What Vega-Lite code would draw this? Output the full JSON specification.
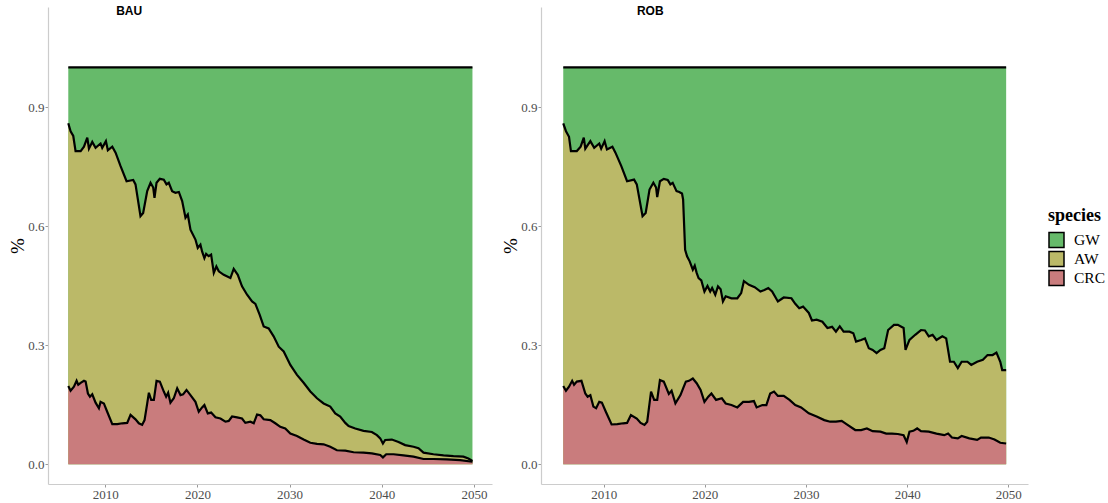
{
  "$schema": "https://vega.github.io/schema/vega-lite/v6.json",
  "padding": {"left": 8, "top": 4, "right": 2, "bottom": 0},
  "background": "white",
  "spacing": 9,
  "config": {
    "view": {"stroke": null},
    "axis": {
      "grid": false,
      "domainColor": "#cccccc",
      "domainWidth": 1.2,
      "tickColor": "#999999",
      "tickSize": 3,
      "labelFont": "Liberation Serif",
      "labelFontSize": 13,
      "labelColor": "#4d4d4d",
      "labelPadding": 1,
      "titleFont": "Liberation Serif",
      "titleFontSize": 19,
      "titleFontWeight": "normal",
      "titleColor": "black"
    },
    "legend": {
      "titleFont": "Liberation Serif",
      "titleFontSize": 18,
      "titleFontWeight": "bold",
      "titleColor": "black",
      "labelFont": "Liberation Serif",
      "labelFontSize": 15.5,
      "labelColor": "black",
      "labelOffset": 9,
      "symbolType": "square",
      "symbolSize": 225,
      "symbolStrokeColor": "black",
      "symbolStrokeWidth": 1.5,
      "symbolOpacity": 1,
      "rowPadding": -4,
      "titlePadding": 6.5
    }
  },
  "datasets": {
    "labels": [
      {"scenario": "BAU", "year": 2012.6, "value": 1.142},
      {"scenario": "ROB", "year": 2014.6, "value": 1.142}
    ],
    "shares": [
      {"scenario": "BAU", "edge": "GW", "year": 2006.00, "value": 1.0},
      {"scenario": "BAU", "edge": "GW", "year": 2049.83, "value": 1.0},
      {"scenario": "BAU", "edge": "AW", "year": 2006.00, "value": 0.859},
      {"scenario": "BAU", "edge": "AW", "year": 2006.25, "value": 0.839},
      {"scenario": "BAU", "edge": "AW", "year": 2006.54, "value": 0.827},
      {"scenario": "BAU", "edge": "AW", "year": 2006.79, "value": 0.789},
      {"scenario": "BAU", "edge": "AW", "year": 2007.34, "value": 0.789},
      {"scenario": "BAU", "edge": "AW", "year": 2007.70, "value": 0.800},
      {"scenario": "BAU", "edge": "AW", "year": 2008.06, "value": 0.823},
      {"scenario": "BAU", "edge": "AW", "year": 2008.24, "value": 0.795},
      {"scenario": "BAU", "edge": "AW", "year": 2008.60, "value": 0.812},
      {"scenario": "BAU", "edge": "AW", "year": 2008.96, "value": 0.797},
      {"scenario": "BAU", "edge": "AW", "year": 2009.50, "value": 0.808},
      {"scenario": "BAU", "edge": "AW", "year": 2009.68, "value": 0.797},
      {"scenario": "BAU", "edge": "AW", "year": 2010.08, "value": 0.814},
      {"scenario": "BAU", "edge": "AW", "year": 2010.29, "value": 0.791},
      {"scenario": "BAU", "edge": "AW", "year": 2010.77, "value": 0.800},
      {"scenario": "BAU", "edge": "AW", "year": 2011.13, "value": 0.785},
      {"scenario": "BAU", "edge": "AW", "year": 2011.67, "value": 0.751},
      {"scenario": "BAU", "edge": "AW", "year": 2012.32, "value": 0.713},
      {"scenario": "BAU", "edge": "AW", "year": 2013.04, "value": 0.716},
      {"scenario": "BAU", "edge": "AW", "year": 2013.29, "value": 0.705},
      {"scenario": "BAU", "edge": "AW", "year": 2013.83, "value": 0.625},
      {"scenario": "BAU", "edge": "AW", "year": 2014.12, "value": 0.633},
      {"scenario": "BAU", "edge": "AW", "year": 2014.56, "value": 0.688},
      {"scenario": "BAU", "edge": "AW", "year": 2014.92, "value": 0.709},
      {"scenario": "BAU", "edge": "AW", "year": 2015.21, "value": 0.697},
      {"scenario": "BAU", "edge": "AW", "year": 2015.35, "value": 0.671},
      {"scenario": "BAU", "edge": "AW", "year": 2015.57, "value": 0.709},
      {"scenario": "BAU", "edge": "AW", "year": 2015.93, "value": 0.719},
      {"scenario": "BAU", "edge": "AW", "year": 2016.36, "value": 0.717},
      {"scenario": "BAU", "edge": "AW", "year": 2016.65, "value": 0.705},
      {"scenario": "BAU", "edge": "AW", "year": 2016.90, "value": 0.709},
      {"scenario": "BAU", "edge": "AW", "year": 2017.26, "value": 0.688},
      {"scenario": "BAU", "edge": "AW", "year": 2017.62, "value": 0.684},
      {"scenario": "BAU", "edge": "AW", "year": 2017.99, "value": 0.686},
      {"scenario": "BAU", "edge": "AW", "year": 2018.35, "value": 0.663},
      {"scenario": "BAU", "edge": "AW", "year": 2018.71, "value": 0.621},
      {"scenario": "BAU", "edge": "AW", "year": 2018.96, "value": 0.629},
      {"scenario": "BAU", "edge": "AW", "year": 2019.25, "value": 0.591},
      {"scenario": "BAU", "edge": "AW", "year": 2019.79, "value": 0.566},
      {"scenario": "BAU", "edge": "AW", "year": 2020.04, "value": 0.545},
      {"scenario": "BAU", "edge": "AW", "year": 2020.33, "value": 0.553},
      {"scenario": "BAU", "edge": "AW", "year": 2020.51, "value": 0.536},
      {"scenario": "BAU", "edge": "AW", "year": 2020.76, "value": 0.519},
      {"scenario": "BAU", "edge": "AW", "year": 2020.95, "value": 0.530},
      {"scenario": "BAU", "edge": "AW", "year": 2021.23, "value": 0.524},
      {"scenario": "BAU", "edge": "AW", "year": 2021.49, "value": 0.528},
      {"scenario": "BAU", "edge": "AW", "year": 2021.78, "value": 0.482},
      {"scenario": "BAU", "edge": "AW", "year": 2022.06, "value": 0.498},
      {"scenario": "BAU", "edge": "AW", "year": 2022.32, "value": 0.486},
      {"scenario": "BAU", "edge": "AW", "year": 2022.86, "value": 0.477},
      {"scenario": "BAU", "edge": "AW", "year": 2023.58, "value": 0.469},
      {"scenario": "BAU", "edge": "AW", "year": 2023.94, "value": 0.492},
      {"scenario": "BAU", "edge": "AW", "year": 2024.38, "value": 0.477},
      {"scenario": "BAU", "edge": "AW", "year": 2024.84, "value": 0.448},
      {"scenario": "BAU", "edge": "AW", "year": 2025.39, "value": 0.427},
      {"scenario": "BAU", "edge": "AW", "year": 2025.93, "value": 0.410},
      {"scenario": "BAU", "edge": "AW", "year": 2026.29, "value": 0.404},
      {"scenario": "BAU", "edge": "AW", "year": 2026.76, "value": 0.376},
      {"scenario": "BAU", "edge": "AW", "year": 2027.19, "value": 0.347},
      {"scenario": "BAU", "edge": "AW", "year": 2027.73, "value": 0.342},
      {"scenario": "BAU", "edge": "AW", "year": 2028.27, "value": 0.322},
      {"scenario": "BAU", "edge": "AW", "year": 2028.82, "value": 0.296},
      {"scenario": "BAU", "edge": "AW", "year": 2029.36, "value": 0.284},
      {"scenario": "BAU", "edge": "AW", "year": 2030.08, "value": 0.250},
      {"scenario": "BAU", "edge": "AW", "year": 2030.80, "value": 0.225},
      {"scenario": "BAU", "edge": "AW", "year": 2031.52, "value": 0.205},
      {"scenario": "BAU", "edge": "AW", "year": 2032.25, "value": 0.183},
      {"scenario": "BAU", "edge": "AW", "year": 2032.97, "value": 0.166},
      {"scenario": "BAU", "edge": "AW", "year": 2033.69, "value": 0.153},
      {"scenario": "BAU", "edge": "AW", "year": 2034.41, "value": 0.145},
      {"scenario": "BAU", "edge": "AW", "year": 2034.95, "value": 0.128},
      {"scenario": "BAU", "edge": "AW", "year": 2035.49, "value": 0.120},
      {"scenario": "BAU", "edge": "AW", "year": 2036.04, "value": 0.104},
      {"scenario": "BAU", "edge": "AW", "year": 2036.40, "value": 0.096},
      {"scenario": "BAU", "edge": "AW", "year": 2037.12, "value": 0.090},
      {"scenario": "BAU", "edge": "AW", "year": 2038.02, "value": 0.084},
      {"scenario": "BAU", "edge": "AW", "year": 2038.92, "value": 0.081},
      {"scenario": "BAU", "edge": "AW", "year": 2039.47, "value": 0.073},
      {"scenario": "BAU", "edge": "AW", "year": 2039.83, "value": 0.065},
      {"scenario": "BAU", "edge": "AW", "year": 2040.12, "value": 0.052},
      {"scenario": "BAU", "edge": "AW", "year": 2040.37, "value": 0.061},
      {"scenario": "BAU", "edge": "AW", "year": 2041.09, "value": 0.062},
      {"scenario": "BAU", "edge": "AW", "year": 2041.81, "value": 0.056},
      {"scenario": "BAU", "edge": "AW", "year": 2042.53, "value": 0.048},
      {"scenario": "BAU", "edge": "AW", "year": 2043.44, "value": 0.044},
      {"scenario": "BAU", "edge": "AW", "year": 2043.98, "value": 0.040},
      {"scenario": "BAU", "edge": "AW", "year": 2044.52, "value": 0.029},
      {"scenario": "BAU", "edge": "AW", "year": 2045.60, "value": 0.025},
      {"scenario": "BAU", "edge": "AW", "year": 2046.69, "value": 0.022},
      {"scenario": "BAU", "edge": "AW", "year": 2047.77, "value": 0.020},
      {"scenario": "BAU", "edge": "AW", "year": 2048.85, "value": 0.019},
      {"scenario": "BAU", "edge": "AW", "year": 2049.39, "value": 0.014},
      {"scenario": "BAU", "edge": "AW", "year": 2049.83, "value": 0.008},
      {"scenario": "BAU", "edge": "CRC", "year": 2006.00, "value": 0.197},
      {"scenario": "BAU", "edge": "CRC", "year": 2006.25, "value": 0.185},
      {"scenario": "BAU", "edge": "CRC", "year": 2006.61, "value": 0.195},
      {"scenario": "BAU", "edge": "CRC", "year": 2006.90, "value": 0.210},
      {"scenario": "BAU", "edge": "CRC", "year": 2007.08, "value": 0.200},
      {"scenario": "BAU", "edge": "CRC", "year": 2007.34, "value": 0.205},
      {"scenario": "BAU", "edge": "CRC", "year": 2007.70, "value": 0.210},
      {"scenario": "BAU", "edge": "CRC", "year": 2007.88, "value": 0.208},
      {"scenario": "BAU", "edge": "CRC", "year": 2008.13, "value": 0.178},
      {"scenario": "BAU", "edge": "CRC", "year": 2008.35, "value": 0.170},
      {"scenario": "BAU", "edge": "CRC", "year": 2008.60, "value": 0.176},
      {"scenario": "BAU", "edge": "CRC", "year": 2008.96, "value": 0.155},
      {"scenario": "BAU", "edge": "CRC", "year": 2009.32, "value": 0.141},
      {"scenario": "BAU", "edge": "CRC", "year": 2009.50, "value": 0.157},
      {"scenario": "BAU", "edge": "CRC", "year": 2009.86, "value": 0.153},
      {"scenario": "BAU", "edge": "CRC", "year": 2010.22, "value": 0.132},
      {"scenario": "BAU", "edge": "CRC", "year": 2010.77, "value": 0.101},
      {"scenario": "BAU", "edge": "CRC", "year": 2011.31, "value": 0.101},
      {"scenario": "BAU", "edge": "CRC", "year": 2011.86, "value": 0.103},
      {"scenario": "BAU", "edge": "CRC", "year": 2012.39, "value": 0.104},
      {"scenario": "BAU", "edge": "CRC", "year": 2012.75, "value": 0.124},
      {"scenario": "BAU", "edge": "CRC", "year": 2013.29, "value": 0.113},
      {"scenario": "BAU", "edge": "CRC", "year": 2013.65, "value": 0.103},
      {"scenario": "BAU", "edge": "CRC", "year": 2014.01, "value": 0.099},
      {"scenario": "BAU", "edge": "CRC", "year": 2014.27, "value": 0.111},
      {"scenario": "BAU", "edge": "CRC", "year": 2014.56, "value": 0.153},
      {"scenario": "BAU", "edge": "CRC", "year": 2014.74, "value": 0.180},
      {"scenario": "BAU", "edge": "CRC", "year": 2014.99, "value": 0.162},
      {"scenario": "BAU", "edge": "CRC", "year": 2015.28, "value": 0.162},
      {"scenario": "BAU", "edge": "CRC", "year": 2015.57, "value": 0.210},
      {"scenario": "BAU", "edge": "CRC", "year": 2015.93, "value": 0.208},
      {"scenario": "BAU", "edge": "CRC", "year": 2016.36, "value": 0.183},
      {"scenario": "BAU", "edge": "CRC", "year": 2016.61, "value": 0.170},
      {"scenario": "BAU", "edge": "CRC", "year": 2016.83, "value": 0.180},
      {"scenario": "BAU", "edge": "CRC", "year": 2017.08, "value": 0.155},
      {"scenario": "BAU", "edge": "CRC", "year": 2017.44, "value": 0.166},
      {"scenario": "BAU", "edge": "CRC", "year": 2017.81, "value": 0.191},
      {"scenario": "BAU", "edge": "CRC", "year": 2018.17, "value": 0.174},
      {"scenario": "BAU", "edge": "CRC", "year": 2018.45, "value": 0.176},
      {"scenario": "BAU", "edge": "CRC", "year": 2018.82, "value": 0.187},
      {"scenario": "BAU", "edge": "CRC", "year": 2019.25, "value": 0.174},
      {"scenario": "BAU", "edge": "CRC", "year": 2019.79, "value": 0.157},
      {"scenario": "BAU", "edge": "CRC", "year": 2020.15, "value": 0.132},
      {"scenario": "BAU", "edge": "CRC", "year": 2020.51, "value": 0.143},
      {"scenario": "BAU", "edge": "CRC", "year": 2020.76, "value": 0.149},
      {"scenario": "BAU", "edge": "CRC", "year": 2021.13, "value": 0.128},
      {"scenario": "BAU", "edge": "CRC", "year": 2021.49, "value": 0.130},
      {"scenario": "BAU", "edge": "CRC", "year": 2021.96, "value": 0.118},
      {"scenario": "BAU", "edge": "CRC", "year": 2022.50, "value": 0.115},
      {"scenario": "BAU", "edge": "CRC", "year": 2023.04, "value": 0.107},
      {"scenario": "BAU", "edge": "CRC", "year": 2023.40, "value": 0.109},
      {"scenario": "BAU", "edge": "CRC", "year": 2023.76, "value": 0.120},
      {"scenario": "BAU", "edge": "CRC", "year": 2024.30, "value": 0.118},
      {"scenario": "BAU", "edge": "CRC", "year": 2024.84, "value": 0.115},
      {"scenario": "BAU", "edge": "CRC", "year": 2025.20, "value": 0.104},
      {"scenario": "BAU", "edge": "CRC", "year": 2025.75, "value": 0.107},
      {"scenario": "BAU", "edge": "CRC", "year": 2026.11, "value": 0.103},
      {"scenario": "BAU", "edge": "CRC", "year": 2026.47, "value": 0.125},
      {"scenario": "BAU", "edge": "CRC", "year": 2026.83, "value": 0.123},
      {"scenario": "BAU", "edge": "CRC", "year": 2027.19, "value": 0.113},
      {"scenario": "BAU", "edge": "CRC", "year": 2027.91, "value": 0.111},
      {"scenario": "BAU", "edge": "CRC", "year": 2028.45, "value": 0.103},
      {"scenario": "BAU", "edge": "CRC", "year": 2028.99, "value": 0.094},
      {"scenario": "BAU", "edge": "CRC", "year": 2029.53, "value": 0.090},
      {"scenario": "BAU", "edge": "CRC", "year": 2030.08, "value": 0.077},
      {"scenario": "BAU", "edge": "CRC", "year": 2030.80, "value": 0.071},
      {"scenario": "BAU", "edge": "CRC", "year": 2031.52, "value": 0.062},
      {"scenario": "BAU", "edge": "CRC", "year": 2032.25, "value": 0.054},
      {"scenario": "BAU", "edge": "CRC", "year": 2032.97, "value": 0.051},
      {"scenario": "BAU", "edge": "CRC", "year": 2033.69, "value": 0.050},
      {"scenario": "BAU", "edge": "CRC", "year": 2034.41, "value": 0.044},
      {"scenario": "BAU", "edge": "CRC", "year": 2035.13, "value": 0.035},
      {"scenario": "BAU", "edge": "CRC", "year": 2036.04, "value": 0.034},
      {"scenario": "BAU", "edge": "CRC", "year": 2036.94, "value": 0.030},
      {"scenario": "BAU", "edge": "CRC", "year": 2038.02, "value": 0.029},
      {"scenario": "BAU", "edge": "CRC", "year": 2038.92, "value": 0.027},
      {"scenario": "BAU", "edge": "CRC", "year": 2039.83, "value": 0.023},
      {"scenario": "BAU", "edge": "CRC", "year": 2040.12, "value": 0.017},
      {"scenario": "BAU", "edge": "CRC", "year": 2040.48, "value": 0.025},
      {"scenario": "BAU", "edge": "CRC", "year": 2041.27, "value": 0.025},
      {"scenario": "BAU", "edge": "CRC", "year": 2042.35, "value": 0.022},
      {"scenario": "BAU", "edge": "CRC", "year": 2043.44, "value": 0.019},
      {"scenario": "BAU", "edge": "CRC", "year": 2044.52, "value": 0.013},
      {"scenario": "BAU", "edge": "CRC", "year": 2045.60, "value": 0.013},
      {"scenario": "BAU", "edge": "CRC", "year": 2047.04, "value": 0.012},
      {"scenario": "BAU", "edge": "CRC", "year": 2048.49, "value": 0.010},
      {"scenario": "BAU", "edge": "CRC", "year": 2049.83, "value": 0.006},
      {"scenario": "ROB", "edge": "GW", "year": 2006.00, "value": 1.0},
      {"scenario": "ROB", "edge": "GW", "year": 2049.79, "value": 1.0},
      {"scenario": "ROB", "edge": "AW", "year": 2006.00, "value": 0.859},
      {"scenario": "ROB", "edge": "AW", "year": 2006.27, "value": 0.839},
      {"scenario": "ROB", "edge": "AW", "year": 2006.57, "value": 0.825},
      {"scenario": "ROB", "edge": "AW", "year": 2006.76, "value": 0.789},
      {"scenario": "ROB", "edge": "AW", "year": 2007.34, "value": 0.789},
      {"scenario": "ROB", "edge": "AW", "year": 2007.72, "value": 0.800},
      {"scenario": "ROB", "edge": "AW", "year": 2008.03, "value": 0.823},
      {"scenario": "ROB", "edge": "AW", "year": 2008.18, "value": 0.795},
      {"scenario": "ROB", "edge": "AW", "year": 2008.68, "value": 0.814},
      {"scenario": "ROB", "edge": "AW", "year": 2009.06, "value": 0.797},
      {"scenario": "ROB", "edge": "AW", "year": 2009.56, "value": 0.808},
      {"scenario": "ROB", "edge": "AW", "year": 2009.75, "value": 0.795},
      {"scenario": "ROB", "edge": "AW", "year": 2010.09, "value": 0.814},
      {"scenario": "ROB", "edge": "AW", "year": 2010.32, "value": 0.793},
      {"scenario": "ROB", "edge": "AW", "year": 2010.86, "value": 0.800},
      {"scenario": "ROB", "edge": "AW", "year": 2011.16, "value": 0.785},
      {"scenario": "ROB", "edge": "AW", "year": 2011.74, "value": 0.751},
      {"scenario": "ROB", "edge": "AW", "year": 2012.31, "value": 0.713},
      {"scenario": "ROB", "edge": "AW", "year": 2013.00, "value": 0.717},
      {"scenario": "ROB", "edge": "AW", "year": 2013.27, "value": 0.705},
      {"scenario": "ROB", "edge": "AW", "year": 2013.84, "value": 0.625},
      {"scenario": "ROB", "edge": "AW", "year": 2014.15, "value": 0.633},
      {"scenario": "ROB", "edge": "AW", "year": 2014.53, "value": 0.692},
      {"scenario": "ROB", "edge": "AW", "year": 2014.91, "value": 0.709},
      {"scenario": "ROB", "edge": "AW", "year": 2015.18, "value": 0.697},
      {"scenario": "ROB", "edge": "AW", "year": 2015.29, "value": 0.673},
      {"scenario": "ROB", "edge": "AW", "year": 2015.56, "value": 0.713},
      {"scenario": "ROB", "edge": "AW", "year": 2015.94, "value": 0.719},
      {"scenario": "ROB", "edge": "AW", "year": 2016.33, "value": 0.716},
      {"scenario": "ROB", "edge": "AW", "year": 2016.59, "value": 0.705},
      {"scenario": "ROB", "edge": "AW", "year": 2016.82, "value": 0.709},
      {"scenario": "ROB", "edge": "AW", "year": 2017.20, "value": 0.688},
      {"scenario": "ROB", "edge": "AW", "year": 2017.47, "value": 0.686},
      {"scenario": "ROB", "edge": "AW", "year": 2017.74, "value": 0.682},
      {"scenario": "ROB", "edge": "AW", "year": 2017.85, "value": 0.667},
      {"scenario": "ROB", "edge": "AW", "year": 2018.05, "value": 0.540},
      {"scenario": "ROB", "edge": "AW", "year": 2018.24, "value": 0.524},
      {"scenario": "ROB", "edge": "AW", "year": 2018.50, "value": 0.511},
      {"scenario": "ROB", "edge": "AW", "year": 2018.81, "value": 0.490},
      {"scenario": "ROB", "edge": "AW", "year": 2019.00, "value": 0.500},
      {"scenario": "ROB", "edge": "AW", "year": 2019.19, "value": 0.482},
      {"scenario": "ROB", "edge": "AW", "year": 2019.38, "value": 0.469},
      {"scenario": "ROB", "edge": "AW", "year": 2019.65, "value": 0.463},
      {"scenario": "ROB", "edge": "AW", "year": 2019.96, "value": 0.435},
      {"scenario": "ROB", "edge": "AW", "year": 2020.26, "value": 0.449},
      {"scenario": "ROB", "edge": "AW", "year": 2020.53, "value": 0.435},
      {"scenario": "ROB", "edge": "AW", "year": 2020.72, "value": 0.444},
      {"scenario": "ROB", "edge": "AW", "year": 2021.03, "value": 0.427},
      {"scenario": "ROB", "edge": "AW", "year": 2021.30, "value": 0.448},
      {"scenario": "ROB", "edge": "AW", "year": 2021.56, "value": 0.441},
      {"scenario": "ROB", "edge": "AW", "year": 2021.79, "value": 0.410},
      {"scenario": "ROB", "edge": "AW", "year": 2022.06, "value": 0.423},
      {"scenario": "ROB", "edge": "AW", "year": 2022.63, "value": 0.418},
      {"scenario": "ROB", "edge": "AW", "year": 2023.21, "value": 0.418},
      {"scenario": "ROB", "edge": "AW", "year": 2023.59, "value": 0.431},
      {"scenario": "ROB", "edge": "AW", "year": 2023.86, "value": 0.461},
      {"scenario": "ROB", "edge": "AW", "year": 2024.36, "value": 0.452},
      {"scenario": "ROB", "edge": "AW", "year": 2024.93, "value": 0.446},
      {"scenario": "ROB", "edge": "AW", "year": 2025.50, "value": 0.435},
      {"scenario": "ROB", "edge": "AW", "year": 2025.89, "value": 0.439},
      {"scenario": "ROB", "edge": "AW", "year": 2026.27, "value": 0.444},
      {"scenario": "ROB", "edge": "AW", "year": 2026.65, "value": 0.435},
      {"scenario": "ROB", "edge": "AW", "year": 2027.22, "value": 0.410},
      {"scenario": "ROB", "edge": "AW", "year": 2027.80, "value": 0.420},
      {"scenario": "ROB", "edge": "AW", "year": 2028.56, "value": 0.418},
      {"scenario": "ROB", "edge": "AW", "year": 2028.94, "value": 0.404},
      {"scenario": "ROB", "edge": "AW", "year": 2029.33, "value": 0.393},
      {"scenario": "ROB", "edge": "AW", "year": 2029.71, "value": 0.397},
      {"scenario": "ROB", "edge": "AW", "year": 2030.28, "value": 0.381},
      {"scenario": "ROB", "edge": "AW", "year": 2030.59, "value": 0.362},
      {"scenario": "ROB", "edge": "AW", "year": 2031.05, "value": 0.364},
      {"scenario": "ROB", "edge": "AW", "year": 2031.62, "value": 0.359},
      {"scenario": "ROB", "edge": "AW", "year": 2032.12, "value": 0.343},
      {"scenario": "ROB", "edge": "AW", "year": 2032.58, "value": 0.346},
      {"scenario": "ROB", "edge": "AW", "year": 2032.96, "value": 0.334},
      {"scenario": "ROB", "edge": "AW", "year": 2033.34, "value": 0.347},
      {"scenario": "ROB", "edge": "AW", "year": 2033.72, "value": 0.334},
      {"scenario": "ROB", "edge": "AW", "year": 2034.30, "value": 0.334},
      {"scenario": "ROB", "edge": "AW", "year": 2034.68, "value": 0.330},
      {"scenario": "ROB", "edge": "AW", "year": 2034.95, "value": 0.309},
      {"scenario": "ROB", "edge": "AW", "year": 2035.45, "value": 0.313},
      {"scenario": "ROB", "edge": "AW", "year": 2035.83, "value": 0.317},
      {"scenario": "ROB", "edge": "AW", "year": 2036.21, "value": 0.292},
      {"scenario": "ROB", "edge": "AW", "year": 2036.59, "value": 0.288},
      {"scenario": "ROB", "edge": "AW", "year": 2036.98, "value": 0.280},
      {"scenario": "ROB", "edge": "AW", "year": 2037.36, "value": 0.288},
      {"scenario": "ROB", "edge": "AW", "year": 2037.74, "value": 0.292},
      {"scenario": "ROB", "edge": "AW", "year": 2038.12, "value": 0.338},
      {"scenario": "ROB", "edge": "AW", "year": 2038.70, "value": 0.351},
      {"scenario": "ROB", "edge": "AW", "year": 2039.08, "value": 0.351},
      {"scenario": "ROB", "edge": "AW", "year": 2039.65, "value": 0.343},
      {"scenario": "ROB", "edge": "AW", "year": 2039.84, "value": 0.288},
      {"scenario": "ROB", "edge": "AW", "year": 2040.23, "value": 0.313},
      {"scenario": "ROB", "edge": "AW", "year": 2040.80, "value": 0.326},
      {"scenario": "ROB", "edge": "AW", "year": 2041.37, "value": 0.338},
      {"scenario": "ROB", "edge": "AW", "year": 2041.76, "value": 0.337},
      {"scenario": "ROB", "edge": "AW", "year": 2042.14, "value": 0.322},
      {"scenario": "ROB", "edge": "AW", "year": 2042.52, "value": 0.326},
      {"scenario": "ROB", "edge": "AW", "year": 2042.90, "value": 0.313},
      {"scenario": "ROB", "edge": "AW", "year": 2043.48, "value": 0.322},
      {"scenario": "ROB", "edge": "AW", "year": 2043.86, "value": 0.317},
      {"scenario": "ROB", "edge": "AW", "year": 2044.24, "value": 0.258},
      {"scenario": "ROB", "edge": "AW", "year": 2044.62, "value": 0.258},
      {"scenario": "ROB", "edge": "AW", "year": 2045.01, "value": 0.242},
      {"scenario": "ROB", "edge": "AW", "year": 2045.39, "value": 0.258},
      {"scenario": "ROB", "edge": "AW", "year": 2045.96, "value": 0.258},
      {"scenario": "ROB", "edge": "AW", "year": 2046.34, "value": 0.250},
      {"scenario": "ROB", "edge": "AW", "year": 2046.92, "value": 0.258},
      {"scenario": "ROB", "edge": "AW", "year": 2047.49, "value": 0.263},
      {"scenario": "ROB", "edge": "AW", "year": 2047.95, "value": 0.275},
      {"scenario": "ROB", "edge": "AW", "year": 2048.45, "value": 0.275},
      {"scenario": "ROB", "edge": "AW", "year": 2048.83, "value": 0.281},
      {"scenario": "ROB", "edge": "AW", "year": 2049.21, "value": 0.258},
      {"scenario": "ROB", "edge": "AW", "year": 2049.40, "value": 0.237},
      {"scenario": "ROB", "edge": "AW", "year": 2049.79, "value": 0.237},
      {"scenario": "ROB", "edge": "CRC", "year": 2006.00, "value": 0.197},
      {"scenario": "ROB", "edge": "CRC", "year": 2006.27, "value": 0.185},
      {"scenario": "ROB", "edge": "CRC", "year": 2006.57, "value": 0.195},
      {"scenario": "ROB", "edge": "CRC", "year": 2006.88, "value": 0.210},
      {"scenario": "ROB", "edge": "CRC", "year": 2007.07, "value": 0.200},
      {"scenario": "ROB", "edge": "CRC", "year": 2007.34, "value": 0.208},
      {"scenario": "ROB", "edge": "CRC", "year": 2007.80, "value": 0.210},
      {"scenario": "ROB", "edge": "CRC", "year": 2008.18, "value": 0.178},
      {"scenario": "ROB", "edge": "CRC", "year": 2008.41, "value": 0.170},
      {"scenario": "ROB", "edge": "CRC", "year": 2008.68, "value": 0.174},
      {"scenario": "ROB", "edge": "CRC", "year": 2008.98, "value": 0.145},
      {"scenario": "ROB", "edge": "CRC", "year": 2009.25, "value": 0.141},
      {"scenario": "ROB", "edge": "CRC", "year": 2009.56, "value": 0.157},
      {"scenario": "ROB", "edge": "CRC", "year": 2009.82, "value": 0.155},
      {"scenario": "ROB", "edge": "CRC", "year": 2010.21, "value": 0.132},
      {"scenario": "ROB", "edge": "CRC", "year": 2010.78, "value": 0.100},
      {"scenario": "ROB", "edge": "CRC", "year": 2011.35, "value": 0.101},
      {"scenario": "ROB", "edge": "CRC", "year": 2011.93, "value": 0.103},
      {"scenario": "ROB", "edge": "CRC", "year": 2012.31, "value": 0.104},
      {"scenario": "ROB", "edge": "CRC", "year": 2012.69, "value": 0.124},
      {"scenario": "ROB", "edge": "CRC", "year": 2013.27, "value": 0.115},
      {"scenario": "ROB", "edge": "CRC", "year": 2013.65, "value": 0.104},
      {"scenario": "ROB", "edge": "CRC", "year": 2014.03, "value": 0.099},
      {"scenario": "ROB", "edge": "CRC", "year": 2014.30, "value": 0.107},
      {"scenario": "ROB", "edge": "CRC", "year": 2014.68, "value": 0.183},
      {"scenario": "ROB", "edge": "CRC", "year": 2014.99, "value": 0.162},
      {"scenario": "ROB", "edge": "CRC", "year": 2015.29, "value": 0.162},
      {"scenario": "ROB", "edge": "CRC", "year": 2015.56, "value": 0.212},
      {"scenario": "ROB", "edge": "CRC", "year": 2015.94, "value": 0.208},
      {"scenario": "ROB", "edge": "CRC", "year": 2016.44, "value": 0.177},
      {"scenario": "ROB", "edge": "CRC", "year": 2016.71, "value": 0.185},
      {"scenario": "ROB", "edge": "CRC", "year": 2017.09, "value": 0.153},
      {"scenario": "ROB", "edge": "CRC", "year": 2017.59, "value": 0.174},
      {"scenario": "ROB", "edge": "CRC", "year": 2017.85, "value": 0.191},
      {"scenario": "ROB", "edge": "CRC", "year": 2018.12, "value": 0.208},
      {"scenario": "ROB", "edge": "CRC", "year": 2018.43, "value": 0.210},
      {"scenario": "ROB", "edge": "CRC", "year": 2018.81, "value": 0.216},
      {"scenario": "ROB", "edge": "CRC", "year": 2019.19, "value": 0.204},
      {"scenario": "ROB", "edge": "CRC", "year": 2019.58, "value": 0.187},
      {"scenario": "ROB", "edge": "CRC", "year": 2019.96, "value": 0.157},
      {"scenario": "ROB", "edge": "CRC", "year": 2020.34, "value": 0.170},
      {"scenario": "ROB", "edge": "CRC", "year": 2020.65, "value": 0.178},
      {"scenario": "ROB", "edge": "CRC", "year": 2021.11, "value": 0.162},
      {"scenario": "ROB", "edge": "CRC", "year": 2021.68, "value": 0.166},
      {"scenario": "ROB", "edge": "CRC", "year": 2022.06, "value": 0.153},
      {"scenario": "ROB", "edge": "CRC", "year": 2022.63, "value": 0.149},
      {"scenario": "ROB", "edge": "CRC", "year": 2023.21, "value": 0.143},
      {"scenario": "ROB", "edge": "CRC", "year": 2023.78, "value": 0.157},
      {"scenario": "ROB", "edge": "CRC", "year": 2024.36, "value": 0.157},
      {"scenario": "ROB", "edge": "CRC", "year": 2024.85, "value": 0.159},
      {"scenario": "ROB", "edge": "CRC", "year": 2025.12, "value": 0.143},
      {"scenario": "ROB", "edge": "CRC", "year": 2025.69, "value": 0.149},
      {"scenario": "ROB", "edge": "CRC", "year": 2026.08, "value": 0.149},
      {"scenario": "ROB", "edge": "CRC", "year": 2026.46, "value": 0.178},
      {"scenario": "ROB", "edge": "CRC", "year": 2026.84, "value": 0.183},
      {"scenario": "ROB", "edge": "CRC", "year": 2027.22, "value": 0.172},
      {"scenario": "ROB", "edge": "CRC", "year": 2027.80, "value": 0.172},
      {"scenario": "ROB", "edge": "CRC", "year": 2028.37, "value": 0.162},
      {"scenario": "ROB", "edge": "CRC", "year": 2028.94, "value": 0.149},
      {"scenario": "ROB", "edge": "CRC", "year": 2029.52, "value": 0.143},
      {"scenario": "ROB", "edge": "CRC", "year": 2030.28, "value": 0.128},
      {"scenario": "ROB", "edge": "CRC", "year": 2031.05, "value": 0.120},
      {"scenario": "ROB", "edge": "CRC", "year": 2031.81, "value": 0.111},
      {"scenario": "ROB", "edge": "CRC", "year": 2032.39, "value": 0.107},
      {"scenario": "ROB", "edge": "CRC", "year": 2032.96, "value": 0.107},
      {"scenario": "ROB", "edge": "CRC", "year": 2033.53, "value": 0.109},
      {"scenario": "ROB", "edge": "CRC", "year": 2034.11, "value": 0.099},
      {"scenario": "ROB", "edge": "CRC", "year": 2034.87, "value": 0.086},
      {"scenario": "ROB", "edge": "CRC", "year": 2035.45, "value": 0.086},
      {"scenario": "ROB", "edge": "CRC", "year": 2036.02, "value": 0.090},
      {"scenario": "ROB", "edge": "CRC", "year": 2036.59, "value": 0.083},
      {"scenario": "ROB", "edge": "CRC", "year": 2037.36, "value": 0.082},
      {"scenario": "ROB", "edge": "CRC", "year": 2037.93, "value": 0.077},
      {"scenario": "ROB", "edge": "CRC", "year": 2038.50, "value": 0.077},
      {"scenario": "ROB", "edge": "CRC", "year": 2039.08, "value": 0.076},
      {"scenario": "ROB", "edge": "CRC", "year": 2039.65, "value": 0.073},
      {"scenario": "ROB", "edge": "CRC", "year": 2039.96, "value": 0.056},
      {"scenario": "ROB", "edge": "CRC", "year": 2040.23, "value": 0.082},
      {"scenario": "ROB", "edge": "CRC", "year": 2040.61, "value": 0.084},
      {"scenario": "ROB", "edge": "CRC", "year": 2040.99, "value": 0.090},
      {"scenario": "ROB", "edge": "CRC", "year": 2041.37, "value": 0.083},
      {"scenario": "ROB", "edge": "CRC", "year": 2042.14, "value": 0.082},
      {"scenario": "ROB", "edge": "CRC", "year": 2042.90, "value": 0.077},
      {"scenario": "ROB", "edge": "CRC", "year": 2043.67, "value": 0.073},
      {"scenario": "ROB", "edge": "CRC", "year": 2044.05, "value": 0.077},
      {"scenario": "ROB", "edge": "CRC", "year": 2044.43, "value": 0.067},
      {"scenario": "ROB", "edge": "CRC", "year": 2045.01, "value": 0.065},
      {"scenario": "ROB", "edge": "CRC", "year": 2045.39, "value": 0.071},
      {"scenario": "ROB", "edge": "CRC", "year": 2046.15, "value": 0.065},
      {"scenario": "ROB", "edge": "CRC", "year": 2046.92, "value": 0.061},
      {"scenario": "ROB", "edge": "CRC", "year": 2047.30, "value": 0.067},
      {"scenario": "ROB", "edge": "CRC", "year": 2048.07, "value": 0.067},
      {"scenario": "ROB", "edge": "CRC", "year": 2048.64, "value": 0.062},
      {"scenario": "ROB", "edge": "CRC", "year": 2049.21, "value": 0.054},
      {"scenario": "ROB", "edge": "CRC", "year": 2049.79, "value": 0.052}
    ]
  },
  "hconcat": [
    {
      "width": 444,
      "height": 477,
      "encoding": {
        "x": {"field": "year", "type": "quantitative", "scale": {"domain": [2003.8, 2051.95], "nice": false, "zero": false}, "axis": {"values": [2010, 2020, 2030, 2040, 2050], "format": "d", "title": null}},
        "y": {"field": "value", "type": "quantitative", "stack": null, "scale": {"domain": [-0.05, 1.152], "nice": false}, "axis": {"values": [0, 0.3, 0.6, 0.9], "format": ".1f", "title": "%", "titlePadding": 0}}
      },
      "layer": [
        {"data": {"name": "shares"}, "transform": [{"filter": "datum.scenario === 'BAU' && datum.edge === 'GW'"}], "mark": {"type": "area"}, "encoding": {"y2": {"datum": 0}, "color": {"field": "edge", "type": "nominal", "title": "species", "scale": {"domain": ["GW", "AW", "CRC"], "range": ["#66ba6a", "#bbb968", "#c97c7d"]}, "legend": {"orient": "none", "legendX": 1000, "legendY": 200, "rowPadding": -4}}}},
        {"data": {"name": "shares"}, "transform": [{"filter": "datum.scenario === 'BAU' && datum.edge === 'AW'"}], "mark": {"type": "area"}, "encoding": {"y2": {"datum": 0}, "color": {"field": "edge", "type": "nominal"}}},
        {"data": {"name": "shares"}, "transform": [{"filter": "datum.scenario === 'BAU' && datum.edge === 'CRC'"}], "mark": {"type": "area"}, "encoding": {"y2": {"datum": 0}, "color": {"field": "edge", "type": "nominal"}}},
        {"data": {"name": "shares"}, "transform": [{"filter": "datum.scenario === 'BAU'"}], "mark": {"type": "line", "color": "black", "strokeWidth": 2.2}, "encoding": {"detail": {"field": "edge"}}},
        {"data": {"name": "labels"}, "transform": [{"filter": "datum.scenario === 'BAU'"}], "mark": {"type": "text", "font": "Liberation Sans", "fontSize": 12, "fontWeight": "bold", "color": "black", "baseline": "middle"}, "encoding": {"text": {"field": "scenario"}}}
      ]
    },
    {
      "width": 487,
      "height": 477,
      "encoding": {
        "x": {"field": "year", "type": "quantitative", "scale": {"domain": [2003.8, 2051.95], "nice": false, "zero": false}, "axis": {"values": [2010, 2020, 2030, 2040, 2050], "format": "d", "title": null}},
        "y": {"field": "value", "type": "quantitative", "stack": null, "scale": {"domain": [-0.05, 1.152], "nice": false}, "axis": {"values": [0, 0.3, 0.6, 0.9], "format": ".1f", "title": "%", "titlePadding": 0}}
      },
      "layer": [
        {"data": {"name": "shares"}, "transform": [{"filter": "datum.scenario === 'ROB' && datum.edge === 'GW'"}], "mark": {"type": "area"}, "encoding": {"y2": {"datum": 0}, "color": {"field": "edge", "type": "nominal"}}},
        {"data": {"name": "shares"}, "transform": [{"filter": "datum.scenario === 'ROB' && datum.edge === 'AW'"}], "mark": {"type": "area"}, "encoding": {"y2": {"datum": 0}, "color": {"field": "edge", "type": "nominal"}}},
        {"data": {"name": "shares"}, "transform": [{"filter": "datum.scenario === 'ROB' && datum.edge === 'CRC'"}], "mark": {"type": "area"}, "encoding": {"y2": {"datum": 0}, "color": {"field": "edge", "type": "nominal"}}},
        {"data": {"name": "shares"}, "transform": [{"filter": "datum.scenario === 'ROB'"}], "mark": {"type": "line", "color": "black", "strokeWidth": 2.2}, "encoding": {"detail": {"field": "edge"}}},
        {"data": {"name": "labels"}, "transform": [{"filter": "datum.scenario === 'ROB'"}], "mark": {"type": "text", "font": "Liberation Sans", "fontSize": 12, "fontWeight": "bold", "color": "black", "baseline": "middle"}, "encoding": {"text": {"field": "scenario"}}}
      ]
    }
  ]
}
